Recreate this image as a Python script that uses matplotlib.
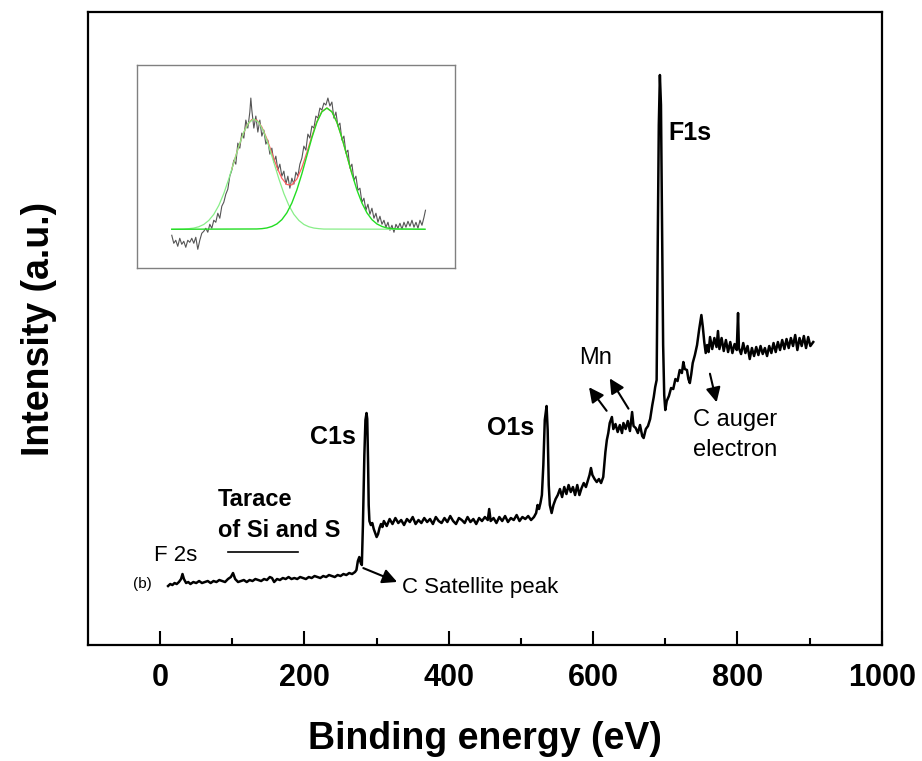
import numpy as np
import matplotlib.pyplot as plt

plt.rcParams['font.family'] = ['Liberation Sans', 'DejaVu Sans']

# survey spectrum, binding energy (eV) vs intensity (a.u.)
e_low = [11, 14, 17, 20, 23, 26, 29, 31, 33, 36, 39, 42, 46, 50, 54, 58, 62, 66, 70, 74,
         78, 82, 86, 90, 94, 98, 101, 104, 108, 112, 116, 120, 124, 128, 132, 136, 140, 144, 148, 152,
         155, 158, 162, 166, 170, 174, 178, 182, 186, 190, 194, 198, 202, 206, 210, 214, 218, 222, 226, 230,
         234, 238, 242, 246, 250, 254, 258, 262, 266, 270]
i_low = [59, 61, 60, 62, 61, 63, 66, 71, 66, 62, 63, 61, 63, 62, 64, 62, 63, 64, 62, 64,
         63, 65, 64, 63, 66, 68, 72, 66, 63, 64, 65, 63, 65, 64, 66, 65, 64, 66, 65, 68,
         67, 63, 66, 65, 67, 66, 68, 66, 67, 66, 68, 67, 66, 68, 67, 69, 68, 67, 69, 68,
         70, 69, 68, 70, 69, 71, 70, 72, 71, 73]

e_c1s = [272, 274, 276, 278, 279.5, 281, 283, 284.5, 286, 287, 288.2, 289, 290, 292, 294, 296,
         298, 300, 302, 304, 306, 308]
i_c1s = [75, 84, 88, 82, 80, 120, 190, 225, 232, 226, 180, 140, 124, 120, 122, 116,
         112, 108, 111, 117, 121, 118]

e_mid = [310, 314, 318, 322, 326, 330, 334, 338, 342, 346, 350, 354, 358, 362, 366, 370, 374, 378,
         382, 386, 390, 394, 398, 402, 406, 410, 414, 418, 422, 426, 430, 434, 438, 442, 446, 450,
         454, 456, 458, 462, 466, 470, 474, 478, 482, 486, 490, 494, 498, 502, 506, 510, 514, 518]
i_mid = [124, 119, 126, 121, 127, 122, 125, 120, 126, 123, 128, 121, 125, 122, 127, 123, 126, 121,
         128, 124, 122, 127, 123, 129, 124, 121, 127, 125, 122, 128, 123, 126, 121, 127, 124, 128,
         125, 136, 124, 127, 122, 128, 124, 129, 123, 127, 125, 130, 124, 128, 126, 129, 125, 128]

e_o1s = [521, 523, 525, 527, 529, 531, 533, 535.5, 537, 538.5, 540, 542.5, 545, 548, 551, 554,
         557, 560, 563, 566, 569, 572, 575, 578, 581, 584, 587, 590, 593, 595, 597, 599, 602, 605,
         608, 611, 614, 617, 619, 621, 623, 626, 628, 631, 634, 637, 640, 642, 645, 648, 651, 654,
         656, 659, 662, 665, 668, 670, 673, 676, 679, 682, 684, 686, 688, 689.5, 691, 692.5, 694,
         695.5, 697, 698.5]
i_o1s = [132, 140, 136, 142, 150, 180, 225, 239, 215, 160, 140, 132, 140, 146, 150, 156,
         148, 158, 151, 160, 153, 158, 150, 160, 150, 157, 162, 158, 165, 170, 177, 170, 166, 163,
         166, 162, 168, 193, 205, 212, 222, 228, 216, 221, 213, 220, 212, 222, 216, 224, 214, 233,
         219, 217, 212, 220, 209, 207, 216, 219, 226, 240, 248, 258, 265, 400, 520, 570, 540,
         420, 300, 250]

e_high = [700, 702, 705, 708, 711, 714, 717, 720, 723, 725, 727, 730, 732, 734, 736, 738, 741, 744,
          747, 750, 752, 754, 756, 758, 760, 762, 765, 768, 771, 773, 775, 778, 781, 784, 787, 790,
          793, 796, 799, 800.8, 802, 805, 808, 811, 814, 817, 820, 823, 826, 829, 832, 835, 838, 841,
          844, 847, 850, 853, 856, 859, 862, 865, 868, 871, 874, 877, 880, 883, 886, 889, 892, 895,
          898, 901, 905]
i_high = [235, 244, 249, 257, 256, 266, 264, 275, 272, 283, 276, 275, 266, 262, 271, 282, 290, 300,
          316, 330, 318, 303, 292, 300, 293, 308, 296, 307, 298, 314, 296, 307, 294, 305, 293, 303,
          292, 301, 295, 332, 297, 291, 302, 292, 299, 286, 297, 289, 298, 290, 299, 291, 297, 289,
          299, 292, 302, 293, 303, 295, 305, 296, 306, 297, 307, 299, 310, 295, 307, 299, 309, 297,
          308, 299, 303]

energy = np.concatenate([e_low, e_c1s, e_mid, e_o1s, e_high])
intensity = np.concatenate([i_low, i_c1s, i_mid, i_o1s, i_high])

# inset: deconvoluted doublet (arbitrary units)
raw_x = [35, 37, 39, 41, 43, 45, 47, 49, 51, 53, 55, 57, 59, 61, 63, 65, 67, 69, 71, 73, 75, 77, 79,
         81, 83, 85, 87, 89, 91, 93, 95, 97, 99, 101, 103, 105, 107, 109, 111, 113, 114, 115, 117, 119,
         121, 123, 125, 127, 129, 131, 133, 135, 137, 139, 141, 143, 145, 147, 149, 151, 153, 155, 157,
         159, 161, 163, 165, 167, 169, 171, 173, 175, 177, 179, 181, 183, 185, 187, 189, 191, 193, 195,
         197, 199, 201, 203, 205, 207, 209, 211, 213, 215, 217, 219, 221, 223, 225, 227, 229, 231, 233,
         235, 237, 239, 241, 243, 245, 247, 249, 251, 253, 255, 257, 259, 261, 263, 265, 267, 269, 271,
         273, 275, 277, 279, 281, 283, 285, 287, 288.5]
raw_y = [33, 25, 28, 22, 30, 24, 27, 21, 28, 26, 30, 25, 31, 19, 28, 35, 37, 40, 36, 44, 40, 48, 46,
         55, 50, 62, 66, 74, 79, 92, 98, 108, 104, 125, 120, 135, 130, 148, 140, 156, 170, 158, 140, 152,
         136, 148, 132, 138, 124, 128, 114, 120, 106, 112, 98, 104, 92, 97, 84, 92, 80, 90, 84,
         96, 92, 104, 110, 122, 118, 134, 130, 142, 140, 152, 150, 160, 158, 165, 163, 170, 162, 166,
         150, 156, 142, 145, 128, 132, 115, 118, 100, 104, 88, 92, 78, 80, 66, 70, 58, 64, 54,
         60, 50, 55, 46, 52, 44, 48, 41, 46, 38, 43, 36, 44, 40, 45, 39, 46, 41, 47,
         42, 48, 41, 46, 40, 48, 43, 51, 58]

peak1_x = [35, 47, 52, 57, 62, 67, 72, 77, 82, 87, 92, 97, 102, 107, 112, 117, 122, 127, 132, 137,
           142, 147, 152, 157, 162, 167, 172, 177, 182, 187, 288]
peak1_y = [39, 39.2, 39.6, 40.2, 41.5, 43.8, 47.8, 53.9, 62.8, 74.7, 89.4, 105.7, 122.0, 136.1, 145.6,
           149.0, 145.6, 136.1, 122.0, 105.7, 89.4, 74.7, 62.8, 53.9, 47.8, 43.8, 41.5, 40.2, 39.6,
           39.2, 39]
peak2_x = [35, 120, 125, 130, 135, 140, 145, 150, 155, 160, 165, 170, 175, 180, 185, 190, 195, 200,
           205, 210, 215, 220, 225, 230, 235, 240, 245, 250, 255, 260, 288]
peak2_y = [39, 39.3, 39.6, 40.3, 41.8, 44.3, 48.6, 55.4, 65.2, 78.3, 94.4, 112.4, 130.3, 145.8, 156.3,
           160.0, 156.3, 145.8, 130.3, 112.4, 94.4, 78.3, 65.2, 55.4, 48.6, 44.3, 41.8, 40.3, 39.6,
           39.3, 39]
env_x = [95, 100, 105, 110, 115, 120, 125, 130, 135, 140, 145, 150, 155, 160, 165, 170, 175, 180,
         185, 190, 195, 200, 205, 210, 215]
env_y = [99.1, 115.7, 130.9, 142.5, 148.6, 148.1, 141.1, 129.4, 115.2, 101.1, 89.9, 83.6, 83.3, 89.2,
         100.6, 115.7, 131.9, 146.6, 156.6, 160.1, 156.3, 145.8, 130.3, 112.4, 94.4]

fig = plt.figure(figsize=(9.22, 7.61), dpi=100)
ax = fig.add_axes([0.0954, 0.1524, 0.861, 0.8318])

ax.plot(energy, intensity, color='black', lw=1.8)

ax.set_xlim(-100, 1000)
ax.set_ylim(0, 633)
ax.set_xticks([0, 200, 400, 600, 800, 1000])
ax.set_xticks([100, 300, 500, 700, 900], minor=True)
ax.set_yticks([])
ax.tick_params(axis='x', which='major', direction='in', length=10, width=1.5, pad=13,
               labelsize=22)
ax.tick_params(axis='x', which='minor', direction='in', length=5, width=1.5)
for lab in ax.get_xticklabels():
    lab.set_fontweight('bold')
for s in ax.spines.values():
    s.set_linewidth(1.6)

ax.set_xlabel('Binding energy (eV)', fontsize=27, fontweight='bold', labelpad=20)
ax.set_ylabel('Intensity (a.u.)', fontsize=27, fontweight='bold', labelpad=22)

# peak labels
ax.text(704, 512, 'F1s', fontsize=18, fontweight='bold', va='center')
ax.text(240, 208, 'C1s', fontsize=18, fontweight='bold', va='center', ha='center')
ax.text(486, 217, 'O1s', fontsize=18, fontweight='bold', va='center', ha='center')
ax.text(603, 287, 'Mn', fontsize=17, va='center', ha='center')
ax.text(738, 210, 'C auger\nelectron', fontsize=17, va='center', ha='left', linespacing=1.45)
ax.text(80, 130, 'Tarace\nof Si and S', fontsize=17, fontweight='bold', va='center', ha='left',
        linespacing=1.45)
ax.plot([94, 191], [93, 93], color='black', lw=1.2)
ax.text(21, 90, 'F 2s', fontsize=16, va='center', ha='center')
ax.text(-25, 61, '(b)', fontsize=11, va='center', ha='center')
ax.text(335, 58, 'C Satellite peak', fontsize=16, va='center', ha='left')

arrow = dict(arrowstyle='-|>', color='black', lw=1.5, mutation_scale=22)
ax.annotate('', xy=(332, 62), xytext=(278, 78), arrowprops=arrow)
ax.annotate('', xy=(592, 260), xytext=(621, 232), arrowprops=arrow)
ax.annotate('', xy=(621, 269), xytext=(651, 234), arrowprops=arrow)
ax.annotate('', xy=(772, 240), xytext=(761, 274), arrowprops=arrow)

# inset
ins = fig.add_axes([0.1483, 0.6474, 0.3452, 0.2672])
ins.plot(raw_x, raw_y, color='#555555', lw=0.8)
ins.plot(env_x, env_y, color='#ff6060', lw=0.9)
ins.plot(peak1_x, peak1_y, color='#88ee88', lw=0.9)
ins.plot(peak2_x, peak2_y, color='#22dd22', lw=1.0)
ins.set_xlim(0, 318)
ins.set_ylim(0, 203)
ins.set_xticks([])
ins.set_yticks([])
for s in ins.spines.values():
    s.set_color('#808080')
    s.set_linewidth(1.0)

fig.savefig('out.png', dpi=100)
